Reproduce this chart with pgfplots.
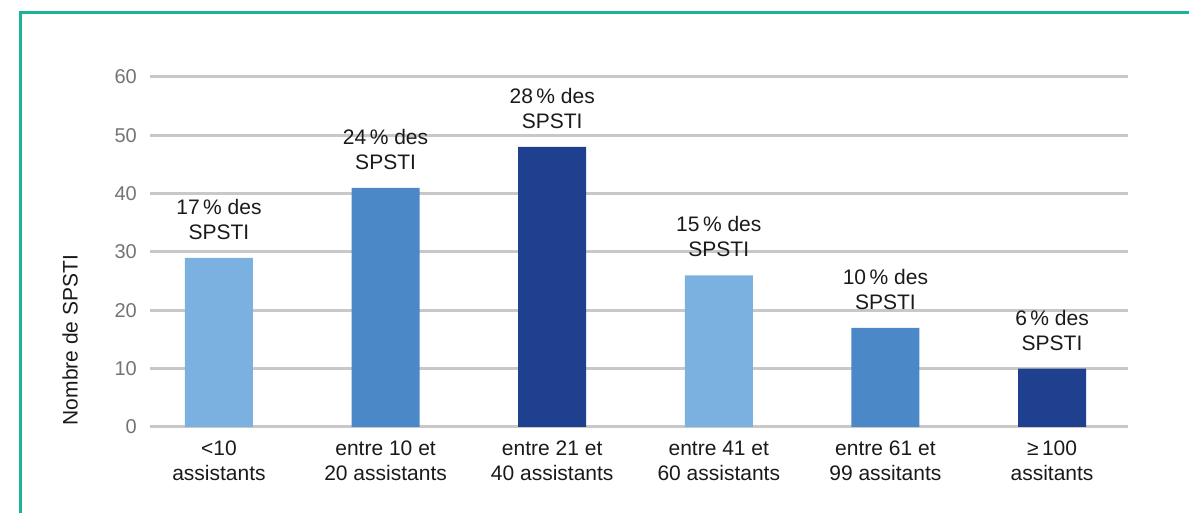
\documentclass[border=0pt]{standalone}
\usepackage{pgfplots}
\pgfplotsset{compat=1.18}
\usetikzlibrary{calc}
\usepackage{fontspec}
\setmainfont{Liberation Sans}
\definecolor{frameteal}{HTML}{1BB39A}
\definecolor{barlight}{HTML}{7BB1E0}
\definecolor{barmid}{HTML}{4A88C7}
\definecolor{bardark}{HTML}{1F3F8F}
\definecolor{gridc}{HTML}{C8C8C8}
\definecolor{tickc}{HTML}{747474}
\definecolor{txt}{HTML}{1A1A1A}
\begin{document}
\fontsize{21pt}{25pt}\selectfont
\begin{tikzpicture}[x=1pt,y=1pt]
\begin{axis}[
  name=ax, anchor=south west,
  scale only axis, width=978pt, height=350pt,
  ybar, bar width=68pt,
  xmin=-0.414, xmax=5.456, ymin=0, ymax=60,
  enlargelimits=false, clip=false,
  axis line style={draw=none},
  major tick length=0pt,
  ytick={0,10,20,30,40,50,60},
  ymajorgrids, grid style={gridc, line width=3pt},
  xtick={0,1,2,3,4,5},
  xticklabels={{<10\\assistants},{entre 10 et\\20 assistants},{entre 21 et\\40 assistants},{entre 41 et\\60 assistants},{entre 61 et\\99 assitants},{≥\,100\\assitants}},
  /pgf/number format/assume math mode=true,
  yticklabel style={font=\fontsize{20pt}{24pt}\selectfont, tickc, inner sep=0pt, anchor=east, xshift=-13pt},
  xticklabel style={font=\fontsize{21pt}{25pt}\selectfont, txt, align=center, inner sep=0pt, anchor=north, yshift=-14pt},
  point meta=explicit symbolic,
  nodes near coords,
  every node near coord/.append style={anchor=south, inner sep=0pt, yshift=18pt, align=center, txt, font=\fontsize{21pt}{25pt}\selectfont},
]
\addplot[fill=barlight, draw=none, bar shift=0pt] coordinates {(0,29) [{17\,\% des\\SPSTI}] (3,26) [{15\,\% des\\SPSTI}]};
\addplot[fill=barmid, draw=none, bar shift=0pt] coordinates {(1,41) [{24\,\% des\\SPSTI}] (4,17) [{10\,\% des\\SPSTI}]};
\addplot[fill=bardark, draw=none, bar shift=0pt] coordinates {(2,48) [{28\,\% des\\SPSTI}] (5,10) [{6\,\% des\\SPSTI}]};
\end{axis}
\coordinate (O) at ($(ax.south west)+(-150,-86)$);
\path[use as bounding box] (O) rectangle ($(O)+(1189,513)$);
\draw[frameteal, line width=3pt] ($(O)+(21,0)$) -- ($(O)+(21,500)$) -- ($(O)+(1189,500)$);
\node[rotate=90, txt, font=\fontsize{21pt}{25pt}\selectfont] at ($(O)+(70,173)$) {Nombre de SPSTI};
\end{tikzpicture}
\end{document}
